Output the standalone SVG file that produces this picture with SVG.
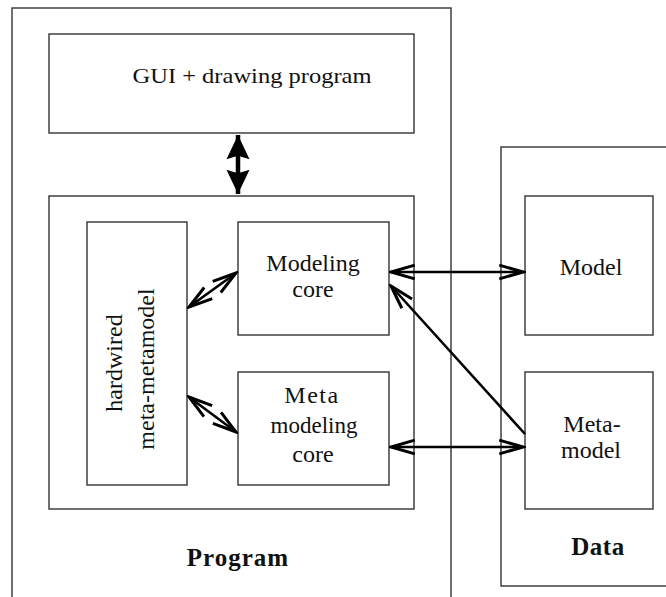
<svg xmlns="http://www.w3.org/2000/svg" width="666" height="597" viewBox="0 0 666 597">
  <style>
    .box { fill: none; stroke: #333; stroke-width: 1.4; }
    .lbl { font-family: "Liberation Serif", "Times New Roman", serif; font-size: 24px; fill: #111; text-anchor: middle; }
    .title { font-family: "Liberation Serif", "Times New Roman", serif; font-size: 25px; font-weight: bold; fill: #111; text-anchor: middle; }
    .conn { fill: none; stroke: #000; stroke-width: 2.6; }
  </style>
  <defs>
    <marker id="open" markerUnits="userSpaceOnUse" markerWidth="30" markerHeight="20" viewBox="-22 -8 24 16" refX="0" refY="0" orient="auto-start-reverse">
      <path d="M -19 -5.5 L 0 0 L -19 5.5" fill="none" stroke="#000" stroke-width="2.4" stroke-linejoin="miter"/>
    </marker>
    <marker id="solid" markerUnits="userSpaceOnUse" markerWidth="30" markerHeight="30" viewBox="-24 -12 26 24" refX="0" refY="0" orient="auto-start-reverse">
      <path d="M -21 -10 L 0 0 L -21 10 L -18 0 Z" fill="#000"/>
    </marker>
  </defs>

  <rect width="666" height="597" fill="#fff"/>

  <!-- containers -->
  <g id="program">
    <rect class="box" x="12" y="8" width="439" height="620"/>
    <text class="title" x="238" y="566" letter-spacing="1">Program</text>
  </g>
  <g id="data">
    <rect class="box" x="501" y="147" width="200" height="439"/>
    <text class="title" x="598" y="555" letter-spacing="0.5">Data</text>
  </g>

  <g id="gui">
    <rect class="box" x="49" y="34" width="365" height="99"/>
    <text class="lbl" x="252" y="83" style="font-size:22px" textLength="239" lengthAdjust="spacingAndGlyphs">GUI + drawing program</text>
  </g>

  <g id="core-frame">
    <rect class="box" x="49" y="196" width="365" height="313"/>
  </g>

  <g id="hardwired">
    <rect class="box" x="87" y="222" width="100" height="263"/>
    <text class="lbl" transform="translate(122 363) rotate(-90)">hardwired</text>
    <text class="lbl" transform="translate(154 369) rotate(-90)">meta-metamodel</text>
  </g>

  <g id="modeling-core">
    <rect class="box" x="238" y="222" width="151" height="113"/>
    <text class="lbl" x="313" y="271">Modeling</text>
    <text class="lbl" x="313" y="297">core</text>
  </g>

  <g id="meta-modeling-core">
    <rect class="box" x="238" y="372" width="151" height="113"/>
    <text class="lbl" x="312" y="403" letter-spacing="1.5">Meta</text>
    <text class="lbl" x="314" y="433" style="font-size:23px">modeling</text>
    <text class="lbl" x="313" y="462">core</text>
  </g>

  <g id="model">
    <rect class="box" x="525" y="196" width="128" height="139"/>
    <text class="lbl" x="591" y="275">Model</text>
  </g>

  <g id="metamodel">
    <rect class="box" x="525" y="372" width="128" height="137"/>
    <text class="lbl" x="592" y="432">Meta-</text>
    <text class="lbl" x="591" y="458">model</text>
  </g>

  <!-- connectors -->
  <g id="connectors">
    <line x1="238" y1="135" x2="238" y2="194" stroke="#000" stroke-width="4.5" marker-start="url(#solid)" marker-end="url(#solid)"/>
    <line class="conn" x1="391" y1="272" x2="523" y2="272" marker-start="url(#open)" marker-end="url(#open)"/>
    <line class="conn" x1="391" y1="447" x2="523" y2="447" marker-start="url(#open)" marker-end="url(#open)"/>
    <line class="conn" x1="525" y1="434" x2="391" y2="286" marker-end="url(#open)"/>
    <line class="conn" x1="189" y1="307" x2="236" y2="273" marker-start="url(#open)" marker-end="url(#open)"/>
    <line class="conn" x1="189" y1="397" x2="236" y2="432" marker-start="url(#open)" marker-end="url(#open)"/>
  </g>
</svg>
